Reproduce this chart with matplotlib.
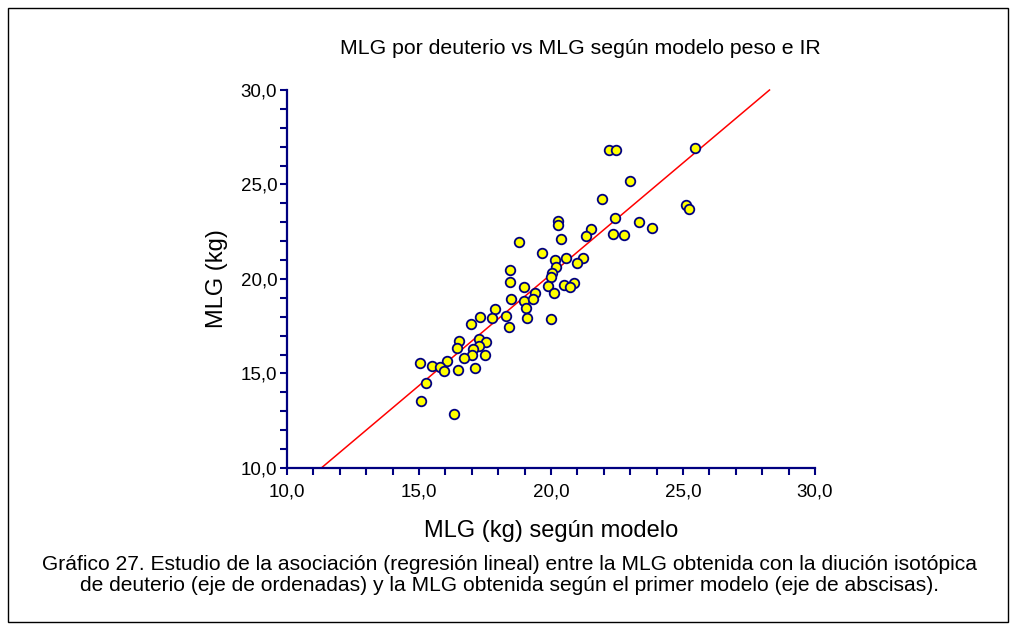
import matplotlib
matplotlib.use("Agg")
import matplotlib.pyplot as plt
from matplotlib.patches import Rectangle
from matplotlib.ticker import MultipleLocator, FuncFormatter

# MLG (kg) according to the weight + IR model (x) and by deuterium dilution (y)
mlg_modelo = [
    25.45, 22.21, 22.46, 22.98, 21.94, 25.13, 25.22, 22.42, 23.33, 23.81,
    20.28, 20.25, 21.50, 21.31, 22.36, 22.76, 20.39, 18.78, 19.67, 20.14,
    20.58, 21.23, 20.97, 18.46, 20.18, 20.03, 19.99, 18.44, 18.99, 19.87,
    20.49, 20.88, 20.72, 19.41, 20.13, 18.48, 18.98, 19.31, 19.05, 17.89,
    17.30, 17.75, 18.31, 19.09, 19.99, 16.98, 18.40, 16.50, 16.43, 17.27,
    17.54, 17.26, 17.06, 16.99, 16.69, 17.51, 16.05, 15.05, 15.48, 15.80,
    15.93, 16.48, 17.14, 15.26, 15.06, 16.31,
]
mlg_deuterio = [
    26.92, 26.81, 26.80, 25.20, 24.25, 23.89, 23.68, 23.23, 23.03, 22.70,
    23.05, 22.87, 22.63, 22.28, 22.38, 22.31, 22.13, 21.97, 21.39, 21.01,
    21.13, 21.10, 20.86, 20.48, 20.61, 20.33, 20.12, 19.84, 19.60, 19.63,
    19.70, 19.79, 19.58, 19.26, 19.24, 18.93, 18.81, 18.96, 18.49, 18.41,
    18.01, 17.94, 18.06, 17.95, 17.88, 17.63, 17.44, 16.72, 16.37, 16.84,
    16.68, 16.43, 16.31, 15.98, 15.84, 15.96, 15.66, 15.57, 15.39, 15.35,
    15.13, 15.16, 15.31, 14.51, 13.52, 12.87,
]

# Fitted regression line  y = a + b * x
reg_intercept = -3.31
reg_slope = 1.178

axis_limits = (10.0, 30.0)
major_ticks = [10.0, 15.0, 20.0, 25.0, 30.0]

title = "MLG por deuterio vs MLG según modelo peso e IR"
xlabel = "MLG (kg) según modelo"
ylabel = "MLG (kg)"
caption = ("Gráfico 27. Estudio de la asociación (regresión lineal) entre la MLG obtenida con la diución isotópica\n"
           "de deuterio (eje de ordenadas) y la MLG obtenida según el primer modelo (eje de abscisas).")

plt.rcParams["font.family"] = ["Liberation Sans", "DejaVu Sans"]
navy = "#000080"

fig = plt.figure(figsize=(10.16, 6.32), dpi=100)
ax = fig.add_axes([287 / 1016, 1 - 468 / 632, 528 / 1016, 378 / 632])

# regression line, clipped to the plotting range
lo, hi = axis_limits
x_start = (lo - reg_intercept) / reg_slope
x_end = min(hi, (hi - reg_intercept) / reg_slope)
ax.plot([x_start, x_end],
        [reg_intercept + reg_slope * x_start, reg_intercept + reg_slope * x_end],
        color="red", lw=1.1, zorder=2, clip_on=False)

ax.plot(mlg_modelo, mlg_deuterio, linestyle="none", marker="o", ms=6.9,
        mfc="#FFFF00", mec=navy, mew=1.3, zorder=3, clip_on=False)

ax.set_xlim(*axis_limits)
ax.set_ylim(*axis_limits)
for side in ("top", "right"):
    ax.spines[side].set_visible(False)
for side in ("left", "bottom"):
    ax.spines[side].set_color(navy)
    ax.spines[side].set_linewidth(1.6)

ax.set_xticks(major_ticks)
ax.set_yticks(major_ticks)
ax.xaxis.set_minor_locator(MultipleLocator(1.0))
ax.yaxis.set_minor_locator(MultipleLocator(1.0))
fmt = FuncFormatter(lambda v, p: f"{v:.1f}".replace(".", ","))
ax.xaxis.set_major_formatter(fmt)
ax.yaxis.set_major_formatter(fmt)
ax.tick_params(which="both", direction="out", length=5, width=1.5, color=navy,
               labelsize=13.5)
ax.tick_params(axis="y", pad=2)
ax.tick_params(axis="x", pad=6)

ax.set_xlabel(xlabel, fontsize=17, labelpad=14)
ax.set_ylabel(ylabel, fontsize=17, labelpad=9)

fig.text(580 / 1016, 1 - 48 / 632, title, ha="center", va="center", fontsize=15.3)
fig.text(509 / 1016, 1 - 575 / 632, caption, ha="center", va="center",
         fontsize=15.1, linespacing=1.1)

# outer frame around the whole figure
fig.add_artist(Rectangle((8 / 1016, 10 / 632), 1000 / 1016, 614 / 632,
                         transform=fig.transFigure, fill=False,
                         edgecolor="black", lw=1.0))

fig.savefig("out.png", dpi=100)
